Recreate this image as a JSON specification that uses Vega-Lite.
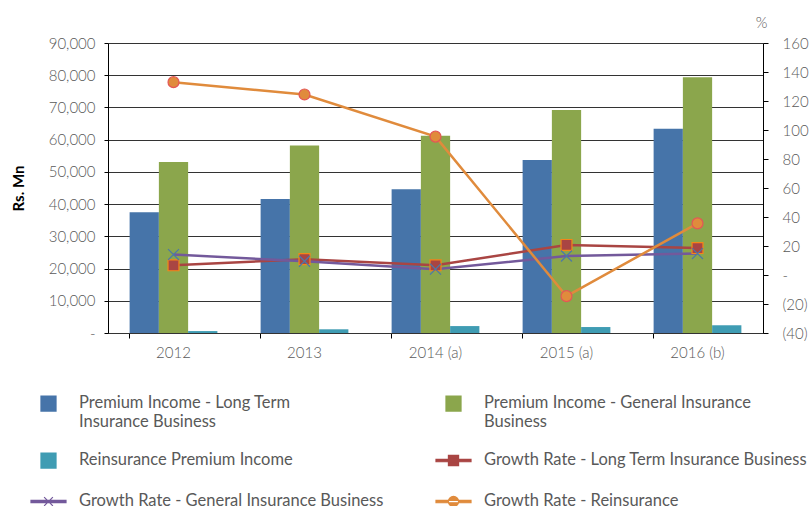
{
  "$schema": "https://vega.github.io/schema/vega-lite/v6.json",
  "width": 655,
  "height": 290,
  "autosize": {"type": "none"},
  "padding": {"left": 108, "top": 43, "right": 49, "bottom": 173},
  "config": {
    "view": {"stroke": null},
    "font": "Lato",
    "axis": {"labelFont": "Lato", "labelFontSize": 15, "labelColor": "#595959", "labelFontWeight": 300, "domainColor": "#000000", "tickColor": "#000000"}
  },
  "datasets": {
    "bars": [
      {"year": "2012", "series": "Premium Income - Long Term Insurance Business", "value": 37500},
      {"year": "2012", "series": "Premium Income - General Insurance Business", "value": 53100},
      {"year": "2012", "series": "Reinsurance Premium Income", "value": 600},
      {"year": "2013", "series": "Premium Income - Long Term Insurance Business", "value": 41600},
      {"year": "2013", "series": "Premium Income - General Insurance Business", "value": 58200},
      {"year": "2013", "series": "Reinsurance Premium Income", "value": 1150},
      {"year": "2014 (a)", "series": "Premium Income - Long Term Insurance Business", "value": 44600},
      {"year": "2014 (a)", "series": "Premium Income - General Insurance Business", "value": 61200},
      {"year": "2014 (a)", "series": "Reinsurance Premium Income", "value": 2150},
      {"year": "2015 (a)", "series": "Premium Income - Long Term Insurance Business", "value": 53700},
      {"year": "2015 (a)", "series": "Premium Income - General Insurance Business", "value": 69200},
      {"year": "2015 (a)", "series": "Reinsurance Premium Income", "value": 1850},
      {"year": "2016 (b)", "series": "Premium Income - Long Term Insurance Business", "value": 63400},
      {"year": "2016 (b)", "series": "Premium Income - General Insurance Business", "value": 79400},
      {"year": "2016 (b)", "series": "Reinsurance Premium Income", "value": 2400}
    ],
    "rates": [
      {"year": "2012", "series": "Growth Rate - Long Term Insurance Business", "rate": 6.7},
      {"year": "2013", "series": "Growth Rate - Long Term Insurance Business", "rate": 10.9},
      {"year": "2014 (a)", "series": "Growth Rate - Long Term Insurance Business", "rate": 6.7},
      {"year": "2015 (a)", "series": "Growth Rate - Long Term Insurance Business", "rate": 20.7},
      {"year": "2016 (b)", "series": "Growth Rate - Long Term Insurance Business", "rate": 18.6},
      {"year": "2012", "series": "Growth Rate - General Insurance Business", "rate": 14.1},
      {"year": "2013", "series": "Growth Rate - General Insurance Business", "rate": 9.5},
      {"year": "2014 (a)", "series": "Growth Rate - General Insurance Business", "rate": 4.0},
      {"year": "2015 (a)", "series": "Growth Rate - General Insurance Business", "rate": 13.1},
      {"year": "2016 (b)", "series": "Growth Rate - General Insurance Business", "rate": 14.8},
      {"year": "2012", "series": "Growth Rate - Reinsurance", "rate": 133},
      {"year": "2013", "series": "Growth Rate - Reinsurance", "rate": 124.5},
      {"year": "2014 (a)", "series": "Growth Rate - Reinsurance", "rate": 95.4},
      {"year": "2015 (a)", "series": "Growth Rate - Reinsurance", "rate": -14.6},
      {"year": "2016 (b)", "series": "Growth Rate - Reinsurance", "rate": 35.6}
    ]
  },
  "layer": [
    {
      "data": {"name": "bars"},
      "mark": {"type": "bar"},
      "encoding": {
        "x": {
          "field": "year", "type": "nominal", "sort": null,
          "scale": {"paddingInner": 0.33, "paddingOuter": 0.165},
          "axis": {"title": null, "labelAngle": 0, "bandPosition": 0, "tickSize": 5, "labelPadding": 7, "domainColor": "#333333"}
        },
        "xOffset": {
          "field": "series", "type": "nominal",
          "sort": ["Premium Income - Long Term Insurance Business", "Premium Income - General Insurance Business", "Reinsurance Premium Income"],
          "scale": {"paddingInner": 0, "paddingOuter": 0}
        },
        "y": {
          "field": "value", "type": "quantitative",
          "scale": {"domain": [0, 90000], "nice": false},
          "axis": {
            "title": "Rs. Mn", "titleFontSize": 15, "titleFontWeight": "bold", "titleColor": "#000000", "titleFont": "Lato",
            "titleX": -90, "titleBaseline": "middle",
            "values": [0, 10000, 20000, 30000, 40000, 50000, 60000, 70000, 80000, 90000],
            "labelExpr": "datum.value == 0 ? '-' : format(datum.value, ',')",
            "tickSize": 4, "labelPadding": 9,
            "grid": true, "gridColor": "#333333", "gridWidth": 1
          }
        },
        "color": {
          "field": "series", "type": "nominal",
          "scale": {
            "domain": ["Premium Income - Long Term Insurance Business", "Reinsurance Premium Income", "Growth Rate - General Insurance Business", "Premium Income - General Insurance Business", "Growth Rate - Long Term Insurance Business", "Growth Rate - Reinsurance"],
            "range": ["#4674A9", "#3F9CB3", "#73599B", "#8BA64C", "#A94543", "#E08B3C"]
          },
          "legend": {
            "title": null, "orient": "none", "legendX": -78, "legendY": 342,
            "columns": 2, "columnPadding": 49, "rowPadding": 12, "gridAlign": "each",
            "labelFontSize": 16.5, "labelColor": "#595959", "labelFont": "Lato", "labelLimit": 450,
            "labelBaseline": "top", "symbolSize": 100, "labelOffset": 12,
            "labelExpr": "datum.label == 'Premium Income - Long Term Insurance Business' ? ['Premium Income - Long Term', 'Insurance Business'] : datum.label == 'Premium Income - General Insurance Business' ? ['Premium Income - General Insurance', 'Business'] : datum.label",
            "encode": {
              "symbols": {
                "update": {
                  "shape": {"signal": "datum.value == 'Growth Rate - Long Term Insurance Business' ? 'M-1,-0.07H1V0.07H-1Z M-0.29,-0.29H0.29V0.29H-0.29Z' : datum.value == 'Growth Rate - General Insurance Business' ? 'M-1,-0.06H1V0.06H-1Z M-0.25,-0.25L0.25,0.25 M-0.25,0.25L0.25,-0.25' : datum.value == 'Growth Rate - Reinsurance' ? 'M-1,-0.07H1V0.07H-1Z M-0.29,0A0.29,0.29 0 1,0 0.29,0A0.29,0.29 0 1,0 -0.29,0Z' : 'M-0.43,-0.43H0.43V0.43H-0.43Z'"},
                  "size": {"value": 1225},
                  "fill": {"scale": "color", "field": "value"},
                  "stroke": {"signal": "datum.value == 'Growth Rate - General Insurance Business' ? scale('color', datum.value) : 'transparent'"},
                  "strokeWidth": {"value": 1.2},
                  "opacity": {"value": 1},
                  "fillOpacity": {"value": 1}
                }
              },
              "labels": {
                "update": {"dy": {"value": -9}, "lineHeight": {"value": 19}}
              }
            }
          }
        }
      }
    },
    {
      "data": {"name": "rates"},
      "encoding": {
        "x": {"field": "year", "type": "nominal", "sort": null},
        "y": {
          "field": "rate", "type": "quantitative",
          "scale": {"domain": [-40, 160], "nice": false},
          "axis": {
            "orient": "right", "title": "%", "titleAngle": 0, "titleFontSize": 15, "titleFontWeight": 300, "titleColor": "#595959",
            "titleX": -2, "titleY": -21, "titleAlign": "center", "titleBaseline": "middle",
            "values": [-40, -20, 0, 20, 40, 60, 80, 100, 120, 140, 160],
            "labelExpr": "datum.value == 0 ? '-' : datum.value < 0 ? '(' + (-datum.value) + ')' : '' + datum.value",
            "tickSize": 5, "labelPadding": 14, "grid": false
          }
        },
        "color": {"field": "series", "type": "nominal"}
      },
      "layer": [
        {"mark": {"type": "line", "strokeWidth": 2.5}},
        {
          "mark": {"type": "point", "filled": true, "opacity": 1, "size": 120, "strokeWidth": 1.2},
          "encoding": {
            "shape": {
              "field": "series", "type": "nominal",
              "scale": {
                "domain": ["Growth Rate - Long Term Insurance Business", "Growth Rate - General Insurance Business", "Growth Rate - Reinsurance"],
                "range": ["square", "M-1,-1L1,1M-1,1L1,-1", "circle"]
              },
              "legend": null
            },
            "stroke": {"field": "series", "type": "nominal", "legend": null}
          }
        }
      ]
    }
  ],
  "resolve": {"scale": {"y": "independent"}}
}
